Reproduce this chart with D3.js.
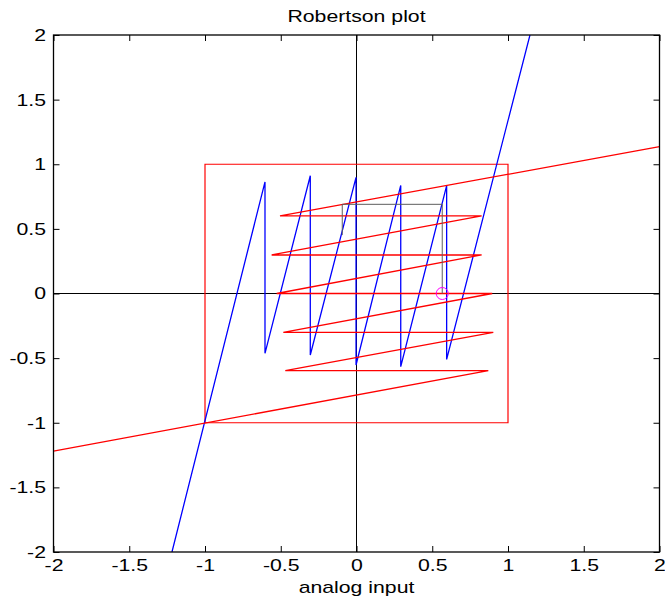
<!DOCTYPE html>
<html>
<head>
<meta charset="utf-8">
<script src="https://cdn.jsdelivr.net/npm/d3@7"></script>
<style>
  html, body { margin: 0; padding: 0; background: #fff; }
  svg { display: block; }
  text { font-family: "Liberation Sans", Arial, Helvetica, sans-serif; fill: #000; }
</style>
</head>
<body>
<svg id="chart" width="665" height="605"></svg>
<script>
// Stage 1 residue (blue): vertices of the sawtooth, input -> residue
const stage1X = [-1.218, -0.604, -0.604, -0.305, -0.305, -0.003, -0.003, 0.292, 0.292, 0.595, 0.595, 1.145];
const stage1Y = [-2, 0.863, -0.463, 0.911, -0.476, 0.899, -0.553, 0.836, -0.566, 0.834, -0.51, 2];

// Stage 2 transfer (red), drawn transposed: input on the vertical axis
const stage2In  = [-1.219, -0.597, -0.597, -0.3, -0.3, 0, 0, 0.298, 0.298, 0.6, 0.6, 1.136];
const stage2Out = [-2, 0.87, -0.47, 0.903, -0.483, 0.896, -0.527, 0.826, -0.56, 0.826, -0.505, 2];

// Full-scale range box
const rangeX = [-1, 1, 1, -1, -1];
const rangeY = [-1, -1, 1, 1, -1];

// Conversion trajectory for one sample
const traceX = [0.566, 0.566, -0.094, -0.094];
const traceY = [0, 0.69, 0.69, 0.452];
const sampleX = [0.566];
const sampleY = [0];

// Axis ticks
const xTicks = [-2, -1.5, -1, -0.5, 0, 0.5, 1, 1.5, 2];
const yTicks = [-2, -1.5, -1, -0.5, 0, 0.5, 1, 1.5, 2];

const titleText = "Robertson plot";
const xLabelText = "analog input";

const plot = { left: 53.5, right: 659.5, top: 35, bottom: 552 };
const stretch = "scale(1.25,1)";

const svg = d3.select("#chart");

const x = d3.scaleLinear().domain([-2, 2]).range([plot.left, plot.right]);
const y = d3.scaleLinear().domain([-2, 2]).range([plot.bottom, plot.top]);

svg.append("defs").append("clipPath").attr("id", "plotClip")
  .append("rect")
  .attr("x", plot.left).attr("y", plot.top)
  .attr("width", plot.right - plot.left).attr("height", plot.bottom - plot.top);

const line = d3.line().x(d => x(d[0])).y(d => y(d[1]));
const data = svg.append("g").attr("clip-path", "url(#plotClip)");

// Zero lines
data.append("path").datum([[-2, 0], [2, 0]]).attr("d", line)
  .attr("fill", "none").attr("stroke", "#000").attr("stroke-width", 1);
data.append("path").datum([[0, -2], [0, 2]]).attr("d", line)
  .attr("fill", "none").attr("stroke", "#000").attr("stroke-width", 1);

// Range box
data.append("path").datum(d3.zip(rangeX, rangeY)).attr("d", line)
  .attr("fill", "none").attr("stroke", "#ff0000").attr("stroke-width", 1.2);

// Stage 1 residue
data.append("path").datum(d3.zip(stage1X, stage1Y)).attr("d", line)
  .attr("fill", "none").attr("stroke", "#0000ff").attr("stroke-width", 1.3);

// Stage 2 transfer (transposed)
data.append("path").datum(d3.zip(stage2Out, stage2In)).attr("d", line)
  .attr("fill", "none").attr("stroke", "#ff0000").attr("stroke-width", 1.3);

// Trajectory
data.append("path").datum(d3.zip(traceX, traceY)).attr("d", line)
  .attr("fill", "none").attr("stroke", "#5e5e5e").attr("stroke-width", 1);

// Sample marker
data.selectAll("circle.sample").data(d3.zip(sampleX, sampleY)).join("circle")
  .attr("class", "sample")
  .attr("cx", d => x(d[0])).attr("cy", d => y(d[1])).attr("r", 6)
  .attr("fill", "none").attr("stroke", "#ff00ff").attr("stroke-width", 1);

// Axes: inward ticks on all four sides, labels on bottom and left
const fmt = d => String(d);
const gb = svg.append("g").attr("transform", `translate(0,${plot.bottom})`)
  .call(d3.axisBottom(x).tickValues(xTicks).tickFormat(fmt).tickSizeInner(-6).tickSizeOuter(0).tickPadding(7));
const gl = svg.append("g").attr("transform", `translate(${plot.left},0)`)
  .call(d3.axisLeft(y).tickValues(yTicks).tickFormat(fmt).tickSizeInner(-6).tickSizeOuter(0).tickPadding(6));
const gt = svg.append("g").attr("transform", `translate(0,${plot.top})`)
  .call(d3.axisTop(x).tickValues(xTicks).tickFormat("").tickSizeInner(-6).tickSizeOuter(0));
const gr = svg.append("g").attr("transform", `translate(${plot.right},0)`)
  .call(d3.axisRight(y).tickValues(yTicks).tickFormat("").tickSizeInner(-6).tickSizeOuter(0));

[gb, gl, gt, gr].forEach(g => {
  g.select(".domain").remove();
  g.selectAll(".tick line").attr("stroke", "#000");
  g.selectAll("text").attr("font-size", 17).attr("font-family", "Liberation Sans, Arial, sans-serif")
    .attr("fill", "#000").attr("transform", stretch);
});

// Frame
svg.append("rect")
  .attr("x", plot.left).attr("y", plot.top)
  .attr("width", plot.right - plot.left).attr("height", plot.bottom - plot.top)
  .attr("fill", "none").attr("stroke", "#000").attr("stroke-width", 1.3);

// Title and axis label
svg.append("text")
  .attr("transform", `translate(${x(0)},21.5) ${stretch}`)
  .attr("text-anchor", "middle").attr("font-size", 17)
  .text(titleText);
svg.append("text")
  .attr("transform", `translate(${x(0)},593) ${stretch}`)
  .attr("text-anchor", "middle").attr("font-size", 17)
  .text(xLabelText);
</script>
</body>
</html>
